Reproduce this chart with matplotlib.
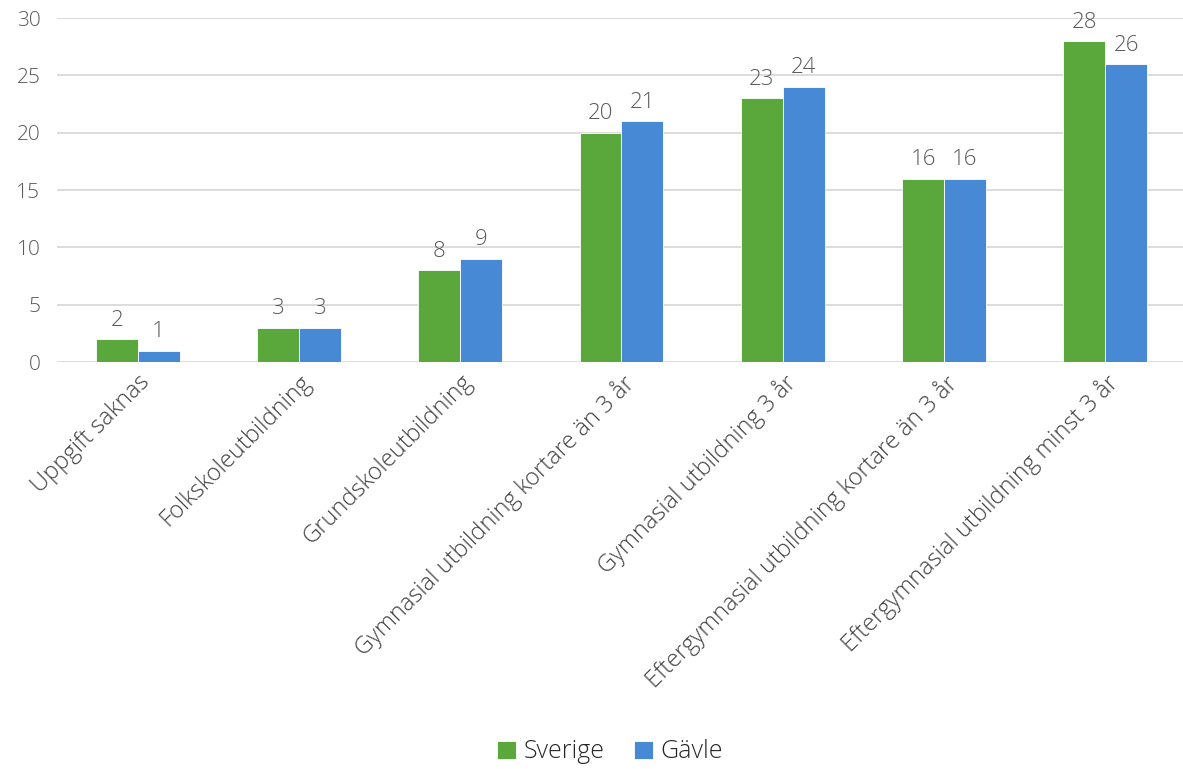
import numpy as np
import matplotlib.pyplot as plt

categories = ["Uppgift saknas", "Folkskoleutbildning", "Grundskoleutbildning",
              "Gymnasial utbildning kortare än 3 år", "Gymnasial utbildning 3 år",
              "Eftergymnasial utbildning kortare än 3 år",
              "Eftergymnasial utbildning minst 3 år"]
sverige = [2, 3, 8, 20, 23, 16, 28]
gavle = [1, 3, 9, 21, 24, 16, 26]

green = '#5aa83c'
blue = '#4889d6'
grey = '#595959'

plt.rcParams['font.family'] = ['Open Sans', 'DejaVu Sans']

W, H = 1183, 769
fig = plt.figure(figsize=(W/100, H/100), dpi=100)
ax = fig.add_axes([57/W, 1 - 362/H, (1186 - 57)/W, 344/H])

x = np.arange(len(categories))
bw = 0.26
b1 = ax.bar(x - bw/2, sverige, bw, color=green, edgecolor='white', linewidth=0.6, zorder=3)
b2 = ax.bar(x + bw/2, gavle, bw, color=blue, edgecolor='white', linewidth=0.6, zorder=3)

for bars in (b1, b2):
    for r in bars:
        ax.annotate(f"{r.get_height():g}", (r.get_x() + r.get_width()/2, r.get_height()),
                    xytext=(0, 6), textcoords='offset points', ha='center', va='bottom',
                    fontsize=16, color=grey, fontweight='light')

ax.set_xlim(-0.5, len(categories) - 0.5)
ax.set_ylim(0, 30)
ax.set_yticks(range(0, 31, 5))
ax.yaxis.grid(True, color='#d9d9d9', linewidth=1.3, zorder=0)
ax.set_axisbelow(True)
for s in ax.spines.values():
    s.set_visible(False)
ax.tick_params(axis='both', length=0, labelsize=15, colors=grey, pad=12)
ax.tick_params(axis='x', pad=6)
ax.set_xticks(x)
ax.set_xticklabels(categories, rotation=45, ha='right', rotation_mode='anchor',
                   fontsize=17, color='#404040', fontweight='light')
for lbl in ax.get_yticklabels():
    lbl.set_ha('right')
    lbl.set_fontweight('light')

fig.legend([b1, b2], ["Sverige", "Gävle"], loc='center', bbox_to_anchor=(610/W, 1 - 752/H),
           ncol=2, frameon=False, handlelength=0.75, handleheight=0.75,
           handletextpad=0.3, columnspacing=1.2, labelcolor='#262626',
           prop={'size': 18, 'weight': 'light'})

fig.savefig('out.png', dpi=100)
